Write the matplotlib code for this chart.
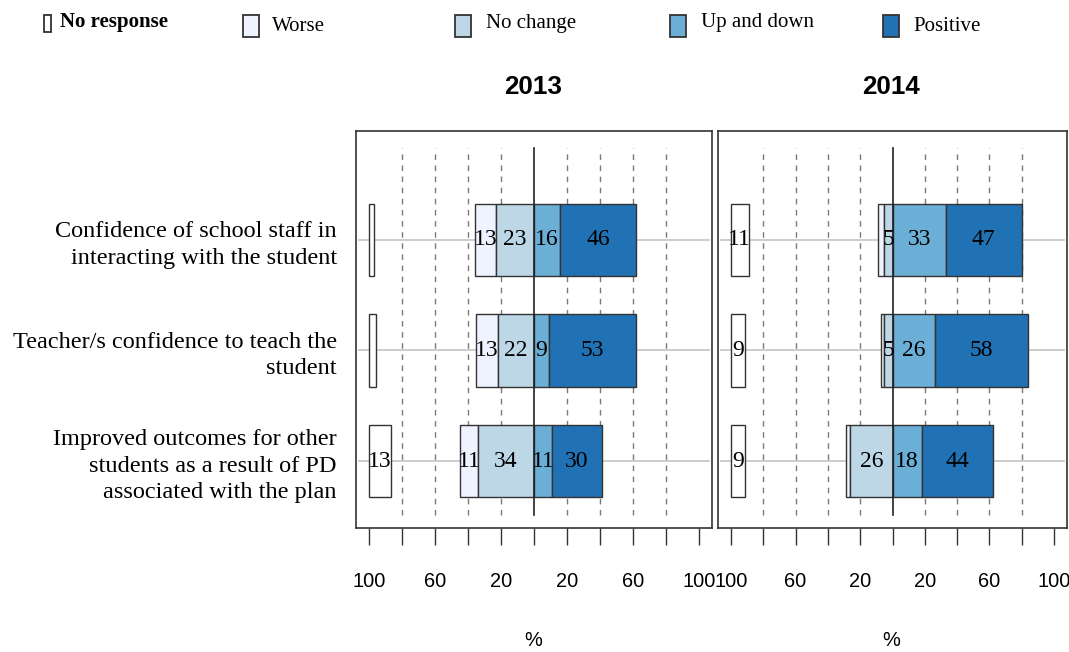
import matplotlib
matplotlib.use("Agg")
import matplotlib.pyplot as plt
from matplotlib.patches import Rectangle
import numpy as np

# ---- data -------------------------------------------------------------
items = [
    "Confidence of school staff in\ninteracting with the student",
    "Teacher/s confidence to teach the\nstudent",
    "Improved outcomes for other\nstudents as a result of PD\nassociated with the plan",
]
years = ["2013", "2014"]
categories = ["No response", "Worse", "No change", "Up and down", "Positive"]

no_response_2013 = [3, 4, 13]
worse_2013 = [13, 13, 11]
no_change_2013 = [23, 22, 34]
up_down_2013 = [16, 9, 11]
positive_2013 = [46, 53, 30]

no_response_2014 = [11, 9, 9]
worse_2014 = [4, 2, 3]
no_change_2014 = [5, 5, 26]
up_down_2014 = [33, 26, 18]
positive_2014 = [47, 58, 44]

tick_values = [-100, -80, -60, -40, -20, 0, 20, 40, 60, 80, 100]
tick_labels = ["100", "", "60", "", "20", "", "20", "", "60", "", "100"]
grid_values = [-80, -60, -40, -20, 20, 40, 60, 80]

# ---- style ------------------------------------------------------------
colors = {
    "No response": "#FFFFFF",
    "Worse": "#EFF3FF",
    "No change": "#BDD7E7",
    "Up and down": "#6BAED6",
    "Positive": "#2171B5",
}
edge = "#333333"
serif = "Liberation Serif"
sans = "Liberation Sans"
plt.rcParams["font.family"] = [sans, "DejaVu Sans"]

W, H = 1069, 652
fig = plt.figure(figsize=(W / 100, H / 100), dpi=100)


def px_box(l, t, r, b):
    return [l / W, 1 - b / H, (r - l) / W, (b - t) / H]


ax1 = fig.add_axes(px_box(356, 131, 712, 528))
ax2 = fig.add_axes(px_box(718, 131, 1067, 528))

panels = [
    (ax1, no_response_2013, worse_2013, no_change_2013, up_down_2013, positive_2013),
    (ax2, no_response_2014, worse_2014, no_change_2014, up_down_2014, positive_2014),
]

ypos = np.array([3, 2, 1])
bar_h = 0.66

for ax, nr, wo, nc, ud, po in panels:
    nr, wo, nc, ud, po = map(np.array, (nr, wo, nc, ud, po))
    ax.set_xlim(-108, 108)
    ax.set_ylim(0.394, 3.986)

    for x in grid_values:
        ax.plot([x, x], [0.51, 3.83], color="#7a7a7a", lw=1.0,
                ls=(0, (4, 4)), zorder=1)
    for y in ypos:
        ax.plot([-106, 106], [y, y], color="#c8c8c8", lw=1.3, zorder=1)

    segs = [
        ("Worse", wo, -(wo + nc)),
        ("No change", nc, -nc),
        ("Up and down", ud, np.zeros_like(ud)),
        ("Positive", po, ud),
        ("No response", nr, np.full_like(nr, -100)),
    ]
    for name, vals, left in segs:
        bars = ax.barh(ypos, vals, left=left, height=bar_h, color=colors[name],
                       edgecolor=edge, linewidth=1.0, zorder=3)
        ax.bar_label(bars, labels=[str(v) if v >= 5 else "" for v in vals],
                     label_type="center", fontsize=17, family=serif,
                     color="black", zorder=5)

    ax.plot([0, 0], [0.51, 3.83], color="#222222", lw=1.2, zorder=4)

    ax.set_xticks(tick_values)
    ax.set_xticklabels(tick_labels, fontsize=14.4, family=sans)
    ax.tick_params(axis="x", length=12, width=1.0, pad=19.5, color=edge)
    for s in ax.spines.values():
        s.set_color(edge)
        s.set_linewidth(1.2)

ax1.set_yticks(ypos)
ax1.set_yticklabels(items, fontsize=17.5, family=serif, linespacing=1.33)
ax1.tick_params(axis="y", length=0, pad=13.7)
ax2.set_yticks([])

# panel titles and axis labels
for year, cx in zip(years, [533, 891]):
    fig.text(cx / W, 1 - 87 / H, year, ha="center", va="center",
             fontsize=18.7, fontweight="bold", family=sans)
    fig.text(cx / W, 1 - 641 / H, "%", ha="center", va="center",
             fontsize=14.4, family=sans)

# legend row across the top
key_boxes = [(44, 15, 51, 32), (243, 15, 259, 37), (455, 15, 471, 37),
             (670, 15, 686, 37), (883, 15, 899, 37)]
text_pos = [(60, 27), (272, 31), (486, 28), (701, 27), (913, 31)]
for cat, (l, t, r, b), (tx, ty) in zip(categories, key_boxes, text_pos):
    fig.add_artist(Rectangle((l / W, 1 - b / H), (r - l) / W, (b - t) / H,
                             transform=fig.transFigure, facecolor=colors[cat],
                             edgecolor=edge, linewidth=1.3))
    fig.text(tx / W, 1 - ty / H, cat, ha="left", va="baseline",
             fontsize=15, family=serif,
             fontweight="bold" if cat == "No response" else "normal")

fig.savefig("out.png", dpi=100, facecolor="white")
